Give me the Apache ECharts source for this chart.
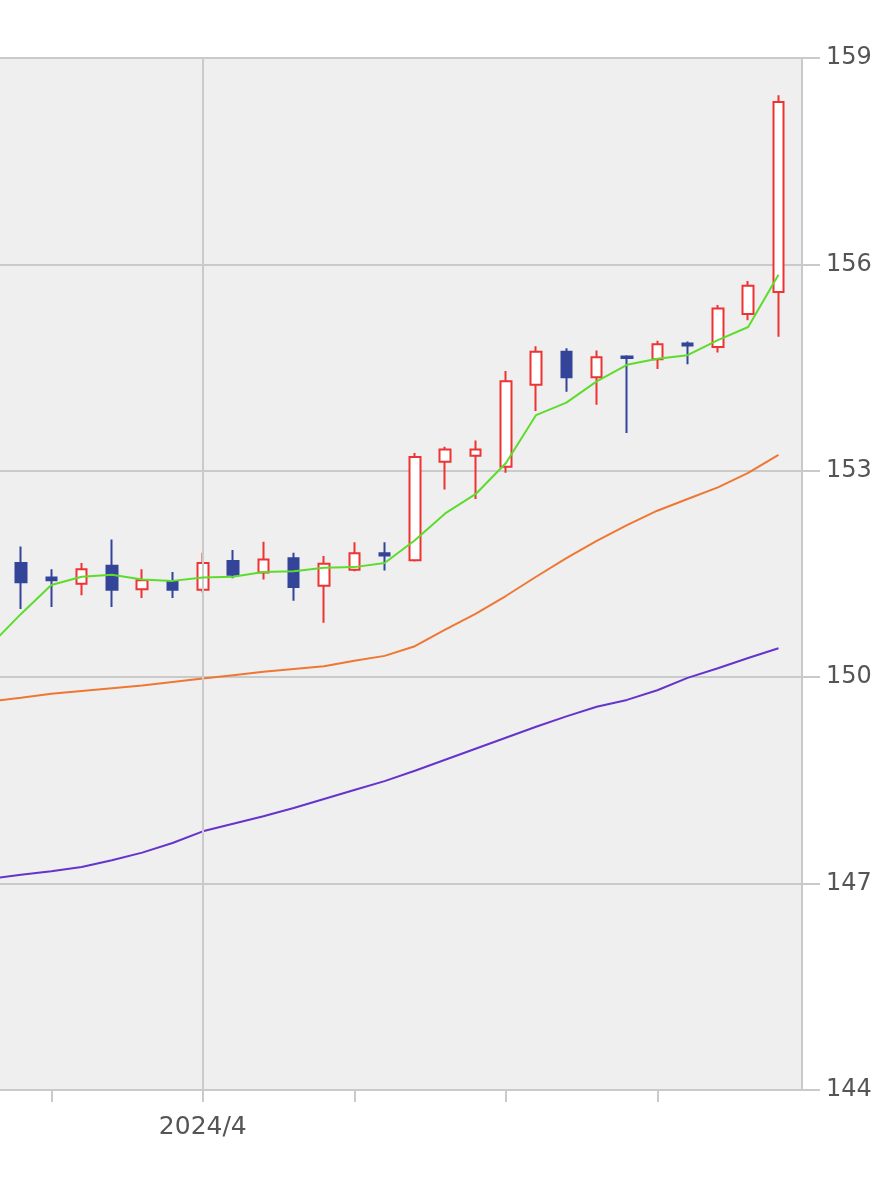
<!DOCTYPE html>
<html>
<head>
<meta charset="utf-8">
<script src="https://cdn.jsdelivr.net/npm/echarts@6/dist/echarts.min.js"></script>
<style>
html,body{margin:0;padding:0;background:#ffffff;}
#chart{width:881px;height:1200px;}
</style>
</head>
<body>
<div id="chart"></div>
<script>
// Daily dates; index 0 = first fully visible candle (2024/3/22). The MA lines start one day earlier.
const lineDates = ['2024/3/21'];
const dates = ['2024/3/22','2024/3/25','2024/3/26','2024/3/27','2024/3/28','2024/3/29',
  '2024/4/1','2024/4/2','2024/4/3','2024/4/4','2024/4/5',
  '2024/4/8','2024/4/9','2024/4/10','2024/4/11','2024/4/12',
  '2024/4/15','2024/4/16','2024/4/17','2024/4/18','2024/4/19',
  '2024/4/22','2024/4/23','2024/4/24','2024/4/25','2024/4/26'];

const opens  = [151.66,151.45,151.36,151.62,151.28,151.39,151.27,151.69,151.52,151.73,151.33,151.56,151.80,151.70,153.13,153.22,153.06,154.25,154.73,154.36,154.66,154.62,154.85,154.80,155.28,155.60];
const closes = [151.38,151.41,151.57,151.27,151.41,151.27,151.66,151.49,151.71,151.31,151.65,151.80,151.77,153.20,153.31,153.31,154.30,154.73,154.36,154.65,154.64,154.84,154.82,155.36,155.69,158.36];
const lows   = [150.99,151.02,151.19,151.02,151.15,151.15,151.23,151.44,151.42,151.11,150.79,151.54,151.55,151.68,152.73,152.59,152.97,153.87,154.15,153.96,153.55,154.48,154.55,154.72,155.19,154.95];
const highs  = [151.90,151.57,151.66,152.00,151.57,151.53,151.81,151.85,151.97,151.81,151.76,151.96,151.96,153.26,153.35,153.44,154.45,154.81,154.78,154.75,154.68,154.89,154.88,155.41,155.76,158.46];

// Moving averages (first value belongs to the day before dates[0])
const ma5  = [150.47,150.92,151.34,151.46,151.49,151.42,151.40,151.45,151.46,151.53,151.54,151.59,151.60,151.66,151.99,152.38,152.66,153.11,153.81,153.99,154.30,154.54,154.63,154.68,154.90,155.09,155.85];
const ma25 = [149.65,149.70,149.76,149.80,149.84,149.88,149.93,149.98,150.03,150.08,150.12,150.16,150.24,150.31,150.45,150.69,150.92,151.18,151.46,151.73,151.98,152.21,152.42,152.59,152.76,152.97,153.23];
const ma75 = [147.07,147.13,147.18,147.24,147.34,147.45,147.59,147.76,147.87,147.98,148.10,148.23,148.36,148.49,148.64,148.80,148.96,149.12,149.28,149.43,149.57,149.67,149.81,149.99,150.13,150.28,150.42];

const yTicks = [144,147,150,153,156,159];

const allDates = lineDates.concat(dates);
const startIdx = -lineDates.length;
const candleData = dates.map((d, i) => [i, opens[i], closes[i], lows[i], highs[i]]);
const lineData = arr => arr.map((v, i) => [i + startIdx, v]);
const dateAt = i => allDates[Math.round(i) - startIdx];

// Monday ticks and month start
const tickIdx = [];
let monthIdx = -1;
dates.forEach((d, i) => {
  const p = d.split('/').map(Number);
  const dt = new Date(p[0], p[1] - 1, p[2]);
  if (dt.getDay() === 1) tickIdx.push(i);
  if (i > 0 && d.split('/')[1] !== dates[i - 1].split('/')[1]) monthIdx = i;
});

const gridColor = '#cacaca';
const chart = echarts.init(document.getElementById('chart'));
chart.setOption({
  animation: false,
  backgroundColor: '#ffffff',
  grid: {
    left: 0, right: 79, top: 58, bottom: 110,
    show: true, backgroundColor: '#efefef', borderWidth: 0,
    outerBoundsMode: 'none', containLabel: false
  },
  xAxis: {
    type: 'value',
    min: -0.693, max: 25.776,
    axisLine: { show: true, onZero: false, lineStyle: { color: gridColor, width: 2 } },
    axisTick: { show: true, customValues: tickIdx, length: 12, lineStyle: { color: gridColor, width: 2 } },
    axisLabel: {
      show: true, customValues: [monthIdx], margin: 25,
      fontFamily: 'DejaVu Sans', fontSize: 25, color: '#555555',
      formatter: v => { const p = dateAt(v).split('/'); return p[0] + '/' + p[1]; }
    },
    splitLine: { show: false }
  },
  yAxis: {
    type: 'value', position: 'right',
    min: yTicks[0], max: yTicks[yTicks.length - 1], interval: 3,
    axisLine: { show: true, onZero: false, lineStyle: { color: gridColor, width: 2 } },
    axisTick: { show: true, inside: false, length: 18, lineStyle: { color: gridColor, width: 2 } },
    axisLabel: { margin: 24, fontFamily: 'DejaVu Sans', fontSize: 24, color: '#555555' },
    splitLine: { show: true, lineStyle: { color: gridColor, width: 2 } }
  },
  series: [
    {
      type: 'line', data: lineData(ma75), z: 1, showSymbol: false, silent: true,
      lineStyle: { opacity: 0 },
      markLine: {
        silent: true, symbol: ['none', 'none'], label: { show: false },
        lineStyle: { color: gridColor, width: 2, type: 'solid' },
        data: [{ xAxis: monthIdx }]
      }
    },
    { type: 'line', name: 'MA75', data: lineData(ma75), z: 3, showSymbol: false, lineStyle: { color: '#6633cc', width: 2 } },
    { type: 'line', name: 'MA25', data: lineData(ma25), z: 3, showSymbol: false, lineStyle: { color: '#ee7733', width: 2 } },
    {
      type: 'candlestick', name: 'price', data: candleData, z: 4,
      encode: { x: 0, y: [1, 2, 3, 4] },
      barWidth: 11,
      itemStyle: { color: '#ffffff', color0: '#334499', borderColor: '#ee3333', borderColor0: '#334499', borderWidth: 2 }
    },
    { type: 'line', name: 'MA5', data: lineData(ma5), z: 5, showSymbol: false, lineStyle: { color: '#5ddc2c', width: 2 } }
  ]
});
</script>
</body>
</html>
